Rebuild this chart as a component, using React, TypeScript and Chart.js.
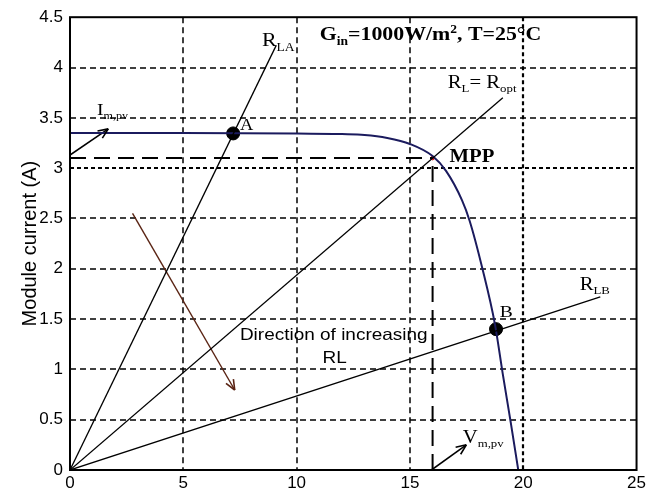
import React, { useEffect, useRef } from 'react';
import { Chart, registerables } from 'chart.js';
Chart.register(...registerables);

// I-V curve of the PV module
const ivVoltage = [0, 5, 10, 12, 13, 14, 15, 16, 16.6, 17.3, 17.63, 18.2, 18.75, 19.1, 19.45, 19.78];
const ivCurrent = [3.35, 3.35, 3.345, 3.338, 3.33, 3.3, 3.24, 3.12, 2.97, 2.68, 2.48, 2.0, 1.45, 0.95, 0.47, 0];

// load lines
const rlaVoltage = [0, 9.1];
const rlaCurrent = [0, 4.22];
const roptVoltage = [0, 19.1];
const roptCurrent = [0, 3.7];
const rlbVoltage = [0, 23.4];
const rlbCurrent = [0, 1.72];

// MPP projection lines
const mppHVoltage = [0, 16];
const mppHCurrent = [3.1, 3.1];
const mppVVoltage = [16, 16];
const mppVCurrent = [0, 3.1];
const mppVoltage = [16];
const mppCurrent = [3.1];

// operating points A and B
const opVoltage = [7.2, 18.8];
const opCurrent = [3.345, 1.4];

// arrows
const imArrowV = [0, 1.69];
const imArrowI = [3.13, 3.39];
const vmArrowV = [15.95, 17.49];
const vmArrowI = [0, 0.25];
const dirArrowV = [2.76, 7.27];
const dirArrowI = [2.55, 0.795];

// axes
const xTicks = [0, 5, 10, 15, 20, 25];
const yTicks = [0, 0.5, 1, 1.5, 2, 2.5, 3, 3.5, 4, 4.5];

const zip = (xs: number[], ys: number[]) => xs.map((x, i) => ({ x, y: ys[i] }));

type Part = [string, 'n' | 'sub' | 'sup'];
interface Annot {
  parts: Part[];
  x: number;
  y: number;
  family: string;
  size: number;
  bold?: boolean;
  align?: 'left' | 'center';
}
const SERIF = '"Liberation Serif", "Times New Roman", serif';
const SANS = '"Liberation Sans", Arial, sans-serif';

const annotations: Annot[] = [
  { parts: [['G', 'n'], ['in', 'sub'], ['=1000W/m', 'n'], ['2', 'sup'], [', T=25°C', 'n']], x: 11.02, y: 4.27, family: SERIF, size: 19, bold: true },
  { parts: [['R', 'n'], ['LA', 'sub']], x: 8.47, y: 4.21, family: SERIF, size: 19 },
  { parts: [['I', 'n'], ['m,pv', 'sub']], x: 1.19, y: 3.53, family: SERIF, size: 17 },
  { parts: [['A', 'n']], x: 7.5, y: 3.38, family: SERIF, size: 16 },
  { parts: [['R', 'n'], ['L', 'sub'], ['= R', 'n'], ['opt', 'sub']], x: 16.67, y: 3.795, family: SERIF, size: 18 },
  { parts: [['MPP', 'n']], x: 16.75, y: 3.06, family: SERIF, size: 18, bold: true },
  { parts: [['Direction of increasing', 'n']], x: 11.64, y: 1.29, family: SANS, size: 16.5, align: 'center' },
  { parts: [['RL', 'n']], x: 11.68, y: 1.063, family: SANS, size: 16.5, align: 'center' },
  { parts: [['B', 'n']], x: 18.96, y: 1.52, family: SERIF, size: 17 },
  { parts: [['R', 'n'], ['LB', 'sub']], x: 22.49, y: 1.79, family: SERIF, size: 18 },
  { parts: [['V', 'n'], ['m,pv', 'sub']], x: 17.33, y: 0.27, family: SERIF, size: 18 },
];

const STRETCH = 1.15;

function drawRich(ctx: CanvasRenderingContext2D, px: number, py: number, a: Annot) {
  const fontFor = (kind: string) => {
    const s = kind === 'n' ? a.size : a.size * 0.62;
    return `${a.bold ? 'bold ' : ''}${s}px ${a.family}`;
  };
  let total = 0;
  const widths = a.parts.map(([t, k]) => {
    ctx.font = fontFor(k);
    const w = ctx.measureText(t).width;
    total += w;
    return w;
  });
  const start = a.align === 'center' ? px - (total * STRETCH) / 2 : px;
  ctx.save();
  ctx.translate(start, py);
  ctx.scale(STRETCH, 1);
  ctx.fillStyle = '#000';
  ctx.textBaseline = 'alphabetic';
  ctx.textAlign = 'left';
  let off = 0;
  a.parts.forEach(([t, k], i) => {
    ctx.font = fontFor(k);
    const dy = k === 'sub' ? a.size * 0.22 : k === 'sup' ? -a.size * 0.4 : 0;
    ctx.fillText(t, off, dy);
    off += widths[i];
  });
  ctx.restore();
}

const gridPlugin = {
  id: 'dashGrid',
  beforeDatasetsDraw(chart: any) {
    const { ctx, chartArea: ca, scales } = chart;
    ctx.save();
    ctx.strokeStyle = '#000';
    scales.x.ticks.forEach((t: any) => {
      if (t.value <= 0 || t.value >= 25) return;
      const px = Math.round(scales.x.getPixelForValue(t.value));
      ctx.lineWidth = t.value === 20 ? 2.2 : 1.5;
      ctx.setLineDash(t.value === 20 ? [4, 3] : [6, 4]);
      ctx.beginPath();
      ctx.moveTo(px, ca.top);
      ctx.lineTo(px, ca.bottom);
      ctx.stroke();
    });
    scales.y.ticks.forEach((t: any) => {
      if (t.value <= 0 || t.value >= 4.5) return;
      const py = Math.round(scales.y.getPixelForValue(t.value));
      ctx.lineWidth = t.value === 3 ? 2.2 : 1.5;
      ctx.setLineDash(t.value === 3 ? [4, 3] : [6, 4]);
      ctx.beginPath();
      ctx.moveTo(ca.left, py);
      ctx.lineTo(ca.right, py);
      ctx.stroke();
    });
    ctx.restore();
  },
};

const annotPlugin = {
  id: 'annot',
  afterDatasetsDraw(chart: any) {
    const { ctx, chartArea, scales } = chart;
    chart.data.datasets.forEach((ds: any, i: number) => {
      if (!ds.arrow) return;
      const pts = chart.getDatasetMeta(i).data;
      const a = pts[pts.length - 2];
      const b = pts[pts.length - 1];
      const ang = Math.atan2(b.y - a.y, b.x - a.x);
      ctx.save();
      ctx.strokeStyle = ds.borderColor;
      ctx.lineWidth = 1.6;
      ctx.beginPath();
      for (const s of [-1, 1]) {
        ctx.moveTo(b.x, b.y);
        ctx.lineTo(b.x - 11 * Math.cos(ang + s * 0.4), b.y - 11 * Math.sin(ang + s * 0.4));
      }
      ctx.stroke();
      ctx.restore();
    });
    ctx.save();
    ctx.strokeStyle = '#000';
    ctx.lineWidth = 2;
    ctx.strokeRect(chartArea.left, chartArea.top, chartArea.right - chartArea.left, chartArea.bottom - chartArea.top);
    ctx.restore();
    annotations.forEach((a) => drawRich(ctx, scales.x.getPixelForValue(a.x), scales.y.getPixelForValue(a.y), a));
  },
};

export default function App() {
  const ref = useRef<HTMLCanvasElement>(null);
  useEffect(() => {
    if (!ref.current) return;
    const line = (xs: number[], ys: number[], extra: any = {}) => ({
      data: zip(xs, ys),
      showLine: true,
      borderColor: '#000',
      borderWidth: 1.3,
      pointRadius: 0,
      ...extra,
    });
    const chart = new Chart(ref.current, {
      type: 'scatter',
      data: {
        datasets: [
          line(mppHVoltage, mppHCurrent, { borderWidth: 2, borderDash: [16, 8] }),
          line(mppVVoltage, mppVCurrent, { borderWidth: 2, borderDash: [16, 8] }),
          line(rlaVoltage, rlaCurrent),
          line(roptVoltage, roptCurrent),
          line(rlbVoltage, rlbCurrent),
          line(ivVoltage, ivCurrent, { borderColor: '#1b1b5e', borderWidth: 2, cubicInterpolationMode: 'monotone' }),
          line(imArrowV, imArrowI, { arrow: true, borderWidth: 1.6 }),
          line(vmArrowV, vmArrowI, { arrow: true, borderWidth: 1.6 }),
          line(dirArrowV, dirArrowI, { arrow: true, borderColor: '#5a2414', borderWidth: 1.4 }),
          { data: zip(opVoltage, opCurrent), pointRadius: 6.5, backgroundColor: '#000', borderColor: '#000', showLine: false },
          { data: zip(mppVoltage, mppCurrent), pointRadius: 1.8, backgroundColor: '#d11', borderColor: '#d11', showLine: false },
        ] as any,
      },
      options: {
        responsive: false,
        animation: false,
        events: [],
        layout: { padding: { top: 17, right: 12, left: 0, bottom: 0 } },
        plugins: { legend: { display: false }, tooltip: { enabled: false } },
        scales: {
          x: {
            type: 'linear',
            min: 0,
            max: 25,
            afterBuildTicks: (s: any) => { s.ticks = xTicks.map((v) => ({ value: v })); },
            afterFit: (s: any) => { s.height = 25; },
            ticks: { color: '#000', padding: 3, font: { family: SANS, size: 17 }, maxRotation: 0, callback: (v: any) => String(v) },
            grid: { display: false, drawTicks: false },
            border: { display: false },
          },
          y: {
            type: 'linear',
            min: 0,
            max: 4.5,
            afterBuildTicks: (s: any) => { s.ticks = yTicks.map((v) => ({ value: v })); },
            afterFit: (s: any) => { s.width = 70; },
            ticks: { color: '#000', padding: 7, font: { family: SANS, size: 17 }, callback: (v: any) => String(v) },
            grid: { display: false, drawTicks: false },
            border: { display: false },
            title: {
              display: true,
              text: 'Module current (A)',
              color: '#000',
              font: { family: SANS, size: 20 },
              padding: { top: 18, bottom: 0 },
            },
          },
        },
      },
      plugins: [gridPlugin, annotPlugin],
    });
    return () => chart.destroy();
  }, []);
  return (
    <div style={{ position: 'absolute', left: 0, top: 0, width: 649, height: 495, background: '#fff' }}>
      <canvas ref={ref} width={649} height={495} style={{ display: 'block' }} />
    </div>
  );
}
